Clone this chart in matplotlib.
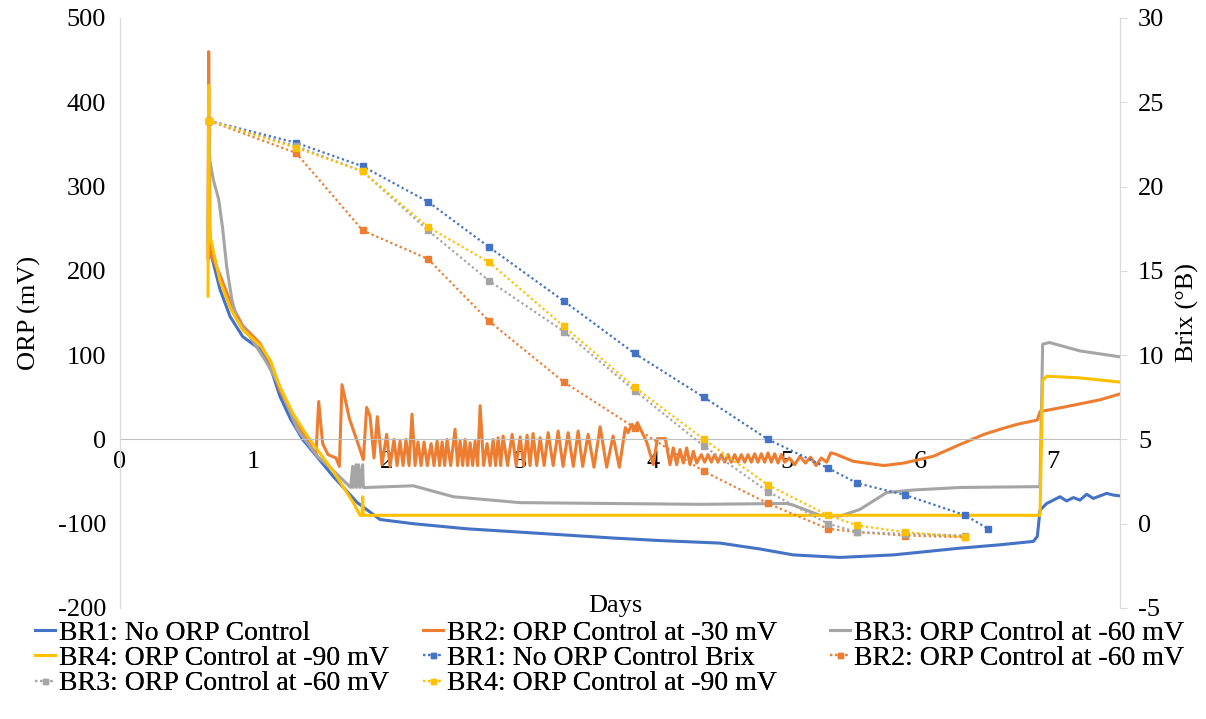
import matplotlib
matplotlib.use("Agg")
import matplotlib.pyplot as plt

plt.rcParams['font.family'] = ['Liberation Serif', 'DejaVu Serif']
plt.rcParams['axes.unicode_minus'] = False

# ORP probe readings (mV) for the four bioreactors
br1_days = [0.665, 0.67, 0.675, 0.75, 0.825, 0.92, 1.05, 1.125, 1.2, 1.28, 1.37, 1.6, 1.78,
            1.95, 2.2, 2.6, 3.0, 3.3, 3.7, 4.05, 4.5, 4.8, 5.05, 5.4, 5.8, 6.3, 6.6, 6.85,
            6.88, 6.9, 6.95, 7.0, 7.05, 7.1, 7.15, 7.2, 7.25, 7.3, 7.35, 7.4, 7.45, 7.5]
br1_orp = [215, 250, 225, 178, 146, 122, 107, 87, 51, 24, 0, -44, -75,
           -95, -100, -106, -110, -113, -117, -120, -123, -130, -137, -140, -137, -129, -125, -121,
           -115, -84, -76, -72, -68, -73, -69, -72, -65, -70, -67, -64, -66, -67]

br2_days = [0.66, 0.665, 0.675, 0.75, 0.83, 0.92, 1.05, 1.13, 1.2, 1.3, 1.4, 1.47,
            1.49, 1.52, 1.56, 1.62, 1.645, 1.665, 1.72, 1.80, 1.825, 1.85, 1.875, 1.905,
            1.93, 1.965, 2.0, 2.025, 2.055, 2.078, 2.10, 2.123, 2.145, 2.168, 2.19, 2.213,
            2.235, 2.258, 2.28, 2.305, 2.333, 2.355, 2.378, 2.397, 2.416, 2.435, 2.453, 2.48,
            2.513, 2.532, 2.551, 2.57, 2.588, 2.607, 2.626, 2.645, 2.663, 2.682, 2.701, 2.727,
            2.753, 2.776, 2.798, 2.817, 2.836, 2.855, 2.873, 2.907, 2.941, 2.971, 3.001, 3.027,
            3.053, 3.075, 3.098, 3.125, 3.151, 3.181, 3.211, 3.249, 3.286, 3.323, 3.361, 3.40,
            3.436, 3.47, 3.511, 3.555, 3.601, 3.65, 3.698, 3.745, 3.79, 3.81, 3.84, 3.86,
            3.88, 3.95, 4.0, 4.03, 4.09, 4.125, 4.15, 4.175, 4.2, 4.225, 4.25, 4.275,
            4.30, 4.325, 4.36, 4.385, 4.41, 4.435, 4.46, 4.485, 4.51, 4.535, 4.56, 4.585,
            4.61, 4.635, 4.66, 4.685, 4.71, 4.735, 4.76, 4.785, 4.81, 4.835, 4.86, 4.885,
            4.91, 4.935, 4.96, 4.985, 5.02, 5.06, 5.10, 5.14, 5.18, 5.22, 5.26, 5.30,
            5.33, 5.36, 5.5, 5.73, 5.88, 6.1, 6.3, 6.48, 6.6, 6.73, 6.88, 6.9,
            7.1, 7.35, 7.5]
br2_orp = [215, 460, 222, 195, 162, 135, 114, 90, 58, 27, 0, -18,
           45, -5, -18, -22, -32, 65, 25, -12, -24, 38, 28, -22,
           27, -30, 6, -32, 0, -31, -2, -31, 0, -31, 30, -31,
           -3, -31, -3, -31, -5, -31, -2, -31, -3, -31, 0, -31,
           12, -31, -2, -31, 0, -31, -4, -31, -2, -31, 40, -31,
           -5, -31, 0, -31, 2, -31, 4, -31, 6, -31, 3, -31,
           5, -31, 7, -31, 2, -31, 8, -31, 10, -32, 8, -32,
           10, -32, 6, -33, 15, -33, 4, -33, 14, 8, 18, 12,
           20, -3, -30, 1, 1, -30, -10, -30, -12, -28, -10, -30,
           -14, -28, -18, -27, -18, -27, -18, -27, -18, -27, -18, -27,
           -18, -27, -18, -27, -18, -27, -17, -27, -17, -27, -16, -27,
           -17, -28, -18, -27, -22, -30, -20, -28, -21, -31, -22, -27,
           -16, -17, -26, -31, -28, -20, -6, 6, 12, 18, 23, 33,
           39, 47, 54]

br3_days = [0.66, 0.665, 0.675, 0.70, 0.74, 0.77, 0.80, 0.84, 0.88, 0.975, 1.1, 1.2,
            1.33, 1.48, 1.6, 1.73, 1.745, 1.75, 1.77, 1.775, 1.79, 1.80, 1.82, 1.825,
            1.85, 2.2, 2.5, 3.0, 4.35, 5.0, 5.05, 5.25, 5.4, 5.55, 5.75, 5.95,
            6.3, 6.9, 6.92, 6.97, 7.2, 7.5]
br3_orp = [235, 358, 330, 308, 285, 250, 205, 165, 142, 122, 91, 62,
           12, -20, -37, -57, -32, -57, -30, -57, -30, -57, -30, -57,
           -57, -55, -68, -75, -77, -76, -78, -90, -91, -83, -63, -60,
           -57, -56, 113, 115, 105, 98]

br4_days = [0.66, 0.665, 0.67, 0.68, 0.75, 0.83, 0.92, 1.05, 1.13, 1.2, 1.3, 1.4,
            1.6, 1.75, 1.8, 1.815, 1.82, 1.825, 1.85, 6.9, 6.92, 6.95, 7.2, 7.5]
br4_orp = [170, 420, 260, 238, 188, 155, 130, 112, 93, 62, 30, 5,
           -38, -75, -90, -90, -68, -90, -90, -90, 70, 75, 73, 68]

# Brix samples
brix_days = [0.67, 1.32, 1.82, 2.31, 2.77, 3.33, 3.86, 4.38, 4.86, 5.31, 5.53, 5.89, 6.34]
br1_brix_days = brix_days + [6.51]
br1_brix = [23.9, 22.6, 21.2, 19.1, 16.4, 13.2, 10.1, 7.5, 5.0, 3.3, 2.4, 1.7, 0.5, -0.3]
br2_brix = [23.9, 22.0, 17.4, 15.7, 12.0, 8.4, 5.7, 3.1, 1.2, -0.3, -0.5, -0.7, -0.8]
br3_brix = [23.9, 22.4, 20.9, 17.4, 14.4, 11.4, 7.9, 4.6, 1.9, 0.0, -0.5, -0.6, -0.7]
br4_brix = [23.9, 22.3, 20.9, 17.6, 15.5, 11.7, 8.1, 5.0, 2.3, 0.5, -0.1, -0.5, -0.8]

c_blue, c_orange, c_gray, c_yellow = '#4472C4', '#ED7D31', '#A5A5A5', '#FFC000'
axis_col = '#D9D9D9'
fs = 19

fig = plt.figure(figsize=(12.06, 7.19), dpi=100)
ax = fig.add_axes([120 / 1206, 111 / 719, 1000 / 1206, 590 / 719])
ax2 = ax.twinx()

lw = 2.2
l1, = ax.plot(br1_days, br1_orp, color=c_blue, lw=lw)
l2, = ax.plot(br2_days, br2_orp, color=c_orange, lw=lw)
l3, = ax.plot(br3_days, br3_orp, color=c_gray, lw=lw)
l4, = ax.plot(br4_days, br4_orp, color=c_yellow, lw=lw)

dot = dict(ls=(0, (1, 1.3)), lw=1.6, marker='s', ms=4.5)
b1, = ax2.plot(br1_brix_days, br1_brix, color=c_blue, **dot)
b2, = ax2.plot(brix_days, br2_brix, color=c_orange, **dot)
b3, = ax2.plot(brix_days, br3_brix, color=c_gray, **dot)
b4, = ax2.plot(brix_days, br4_brix, color=c_yellow, **dot)

ax.set_xlim(0, 7.5)
ax.set_ylim(-200, 500)
ax2.set_ylim(-5, 30)
ax.set_xticks(range(0, 8))
ax.set_yticks(range(-200, 501, 100))
ax2.set_yticks(range(-5, 31, 5))

ax.spines['bottom'].set_position(('data', 0))
ax.spines['bottom'].set_color('#BFBFBF')
for a in (ax, ax2):
    a.spines['top'].set_visible(False)
    a.spines['left'].set_color(axis_col)
    a.spines['right'].set_color(axis_col)
ax2.spines['bottom'].set_visible(False)

ax.tick_params(axis='x', length=0, pad=8, labelsize=fs)
ax.tick_params(axis='y', length=0, pad=10, labelsize=fs)
ax2.tick_params(axis='y', length=5, color=axis_col, pad=8, labelsize=fs)

ax.set_ylabel('ORP (mV)', fontsize=fs, labelpad=12)
ax2.set_ylabel('Brix (°B)', fontsize=fs, labelpad=8)
fig.text(615 / 1206, 1 - 606 / 719, 'Days', ha='center', va='center', fontsize=fs)

# legend laid out as three separate columns
leg_kw = dict(loc='upper left', frameon=False, fontsize=20, handlelength=0.7,
              handletextpad=0.15, labelspacing=0.0, markerscale=0.8, borderaxespad=0)
columns = [
    (24, [l1, l4, b3], ['BR1: No ORP Control', 'BR4: ORP Control at -90 mV',
                        'BR3: ORP Control at -60 mV']),
    (412, [l2, b1, b4], ['BR2: ORP Control at -30 mV', 'BR1: No ORP Control Brix',
                         'BR4: ORP Control at -90 mV']),
    (819, [l3, b2], ['BR3: ORP Control at -60 mV', 'BR2: ORP Control at -60 mV']),
]
for x0, hs, ls in columns:
    fig.add_artist(fig.legend(hs, ls, bbox_to_anchor=(x0 / 1206, 1 - 609 / 719), **leg_kw))

fig.savefig('out.png', dpi=100)
